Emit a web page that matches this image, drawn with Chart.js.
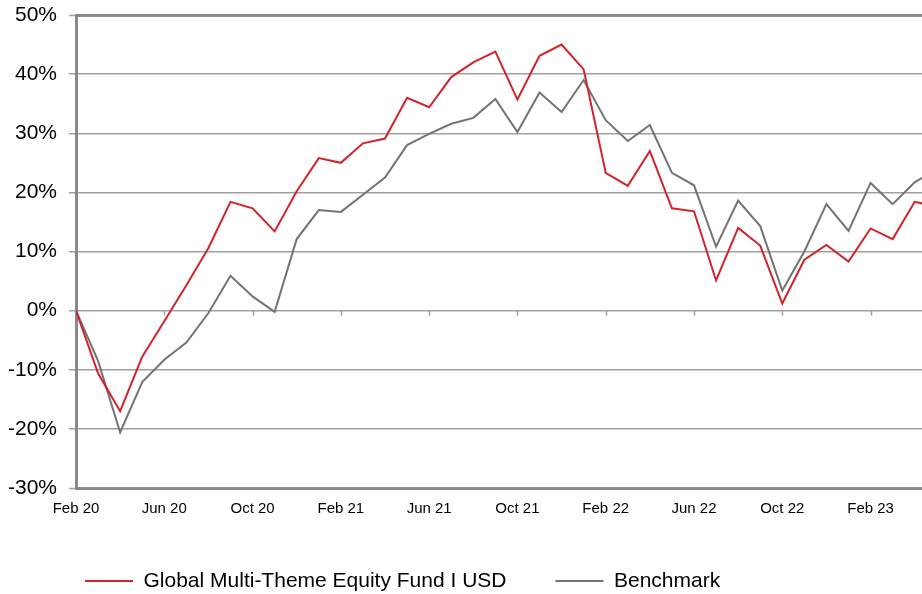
<!DOCTYPE html>
<html>
<head>
<meta charset="utf-8">
<script src="https://cdn.jsdelivr.net/npm/chart.js@4/dist/chart.umd.min.js"></script>
<style>
  body { margin: 0; background: #fff; }
</style>
</head>
<body>
<canvas id="perfChart" width="922" height="594"></canvas>
<script>
// month labels, one per data point (Feb 20 .. May 23)
const months = ['Feb 20','Mar 20','Apr 20','May 20','Jun 20','Jul 20','Aug 20','Sep 20','Oct 20','Nov 20','Dec 20','Jan 21',
  'Feb 21','Mar 21','Apr 21','May 21','Jun 21','Jul 21','Aug 21','Sep 21','Oct 21','Nov 21','Dec 21','Jan 22',
  'Feb 22','Mar 22','Apr 22','May 22','Jun 22','Jul 22','Aug 22','Sep 22','Oct 22','Nov 22','Dec 22','Jan 23',
  'Feb 23','Mar 23','Apr 23','May 23'];

// cumulative performance in %
const fund = [0, -10.6, -17.0, -7.8, -1.8, 4.3, 10.6, 18.4, 17.3, 13.4, 20.2, 25.8,
  25.0, 28.3, 29.1, 36.0, 34.4, 39.5, 42.0, 43.8, 35.7, 43.1, 45.0, 40.8,
  23.3, 21.1, 27.0, 17.3, 16.8, 5.1, 14.0, 11.0, 1.2, 8.6, 11.1, 8.3,
  13.9, 12.1, 18.4, 17.6];
const benchmark = [0, -8.5, -20.6, -12.1, -8.3, -5.4, -0.4, 5.9, 2.4, -0.2, 12.1, 17.0,
  16.7, 19.6, 22.5, 28.0, 29.9, 31.6, 32.6, 35.8, 30.2, 36.9, 33.6, 39.0,
  32.2, 28.7, 31.4, 23.3, 21.2, 10.8, 18.6, 14.3, 3.4, 10.0, 18.0, 13.5,
  21.6, 18.0, 21.7, 24.0];

const seriesNames = ['Global Multi-Theme Equity Fund I USD', 'Benchmark'];
const yTicks = [-30, -20, -10, 0, 10, 20, 30, 40, 50];

const FONT = 'Arial, "Liberation Sans", sans-serif';

// little tick marks on the 0% line under each month label
const zeroTicks = {
  id: 'zeroTicks',
  beforeDatasetsDraw(chart) {
    const {ctx, scales: {x, y}} = chart;
    const y0 = y.getPixelForValue(0);
    ctx.save();
    ctx.strokeStyle = '#a0a0a0';
    ctx.lineWidth = 1.5;
    x.ticks.forEach(t => {
      const px = Math.round(x.getPixelForValue(t.value)) + 0.5;
      ctx.beginPath();
      ctx.moveTo(px, y0);
      ctx.lineTo(px, y0 + 5);
      ctx.stroke();
    });
    ctx.restore();
  }
};

// legend sits a bit right of the canvas' left edge
const legendShift = {
  id: 'legendShift',
  afterUpdate(chart) {
    chart.legend.left += 36;
    chart.legend.right += 36;
  }
};

new Chart('perfChart', {
  type: 'line',
  data: {
    datasets: [
      {
        label: seriesNames[0],
        data: fund.map((v, i) => ({x: i, y: v})),
        borderColor: '#d2232a',
        backgroundColor: '#d2232a',
        borderWidth: 2,
        pointRadius: 0,
        tension: 0
      },
      {
        label: seriesNames[1],
        data: benchmark.map((v, i) => ({x: i, y: v})),
        borderColor: '#737373',
        backgroundColor: '#737373',
        borderWidth: 2,
        pointRadius: 0,
        tension: 0
      }
    ]
  },
  options: {
    responsive: false,
    animation: false,
    devicePixelRatio: 1,
    layout: { padding: { left: 0, top: 15, right: 0, bottom: 0 } },
    scales: {
      x: {
        type: 'linear',
        min: 0,
        max: 38.33,
        grid: { display: false },
        border: { display: false },
        ticks: {
          stepSize: 4,
          includeBounds: false,
          autoSkip: false,
          maxRotation: 0,
          padding: 4,
          color: '#000',
          font: { family: FONT, size: 15 },
          callback: v => months[v]
        },
        afterFit(s) { s.height = 33.5; }
      },
      y: {
        min: yTicks[0],
        max: yTicks[yTicks.length - 1],
        afterBuildTicks(s) { s.ticks = yTicks.map(v => ({value: v})); },
        grid: {
          color: c => (c.tick && (c.tick.value === 50 || c.tick.value === -30)) ? '#8a8a8a' : '#a0a0a0',
          lineWidth: c => (c.tick && (c.tick.value === 50 || c.tick.value === -30)) ? 3 : 1.5,
          tickLength: 7,
          tickColor: '#a0a0a0',
          tickWidth: 1.5
        },
        border: { color: '#8a8a8a', width: 3 },
        ticks: {
          padding: 12,
          color: '#000',
          font: { family: FONT, size: 21 },
          callback: v => v + '%'
        },
        afterFit(s) {
          s.width = 76;
          s.paddingTop = 0;
          s.paddingBottom = 0;
        }
      }
    },
    plugins: {
      legend: {
        position: 'bottom',
        align: 'start',
        maxHeight: 72.5,
        labels: {
          boxWidth: 48,
          boxHeight: 0,
          padding: 49,
          color: '#000',
          font: { family: FONT, size: 21 }
        }
      },
      tooltip: { enabled: false }
    }
  },
  plugins: [zeroTicks, legendShift]
});
</script>
</body>
</html>
